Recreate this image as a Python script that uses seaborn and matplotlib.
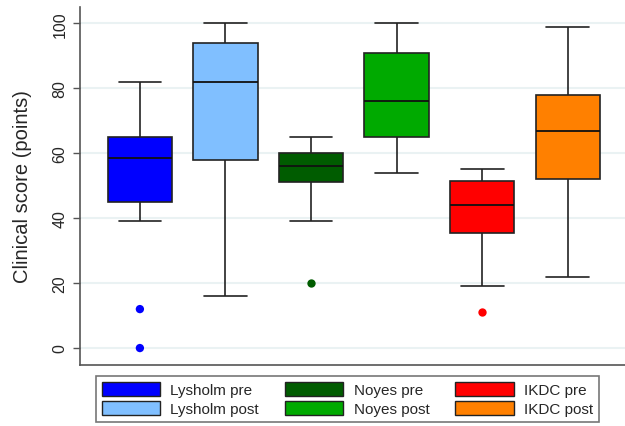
import numpy as np
import pandas as pd
import matplotlib
matplotlib.use("Agg")
import matplotlib.pyplot as plt
from matplotlib.patches import Patch
import seaborn as sns

groups = ["Lysholm pre", "Lysholm post", "Noyes pre", "Noyes post", "IKDC pre", "IKDC post"]
colors = ["#0000FF", "#80BFFF", "#005C00", "#00AA00", "#FF0000", "#FF8000"]

# five-number summaries: low whisker, Q1, median, Q3, high whisker
lysholm_pre = [39, 45, 58.5, 65, 82]
lysholm_post = [16, 58, 82, 94, 100]
noyes_pre = [39, 51, 56, 60, 65]
noyes_post = [54, 65, 76, 91, 100]
ikdc_pre = [19, 35.5, 44, 51.5, 55]
ikdc_post = [22, 52, 67, 78, 99]

outlier_groups = ["Lysholm pre", "Lysholm pre", "Noyes pre", "IKDC pre"]
outlier_values = [12, 0, 20, 11]

summaries = [lysholm_pre, lysholm_post, noyes_pre, noyes_post, ikdc_pre, ikdc_post]
df = pd.DataFrame({
    "group": [g for g, s in zip(groups, summaries) for _ in s],
    "score": [v for s in summaries for v in s],
})
out_df = pd.DataFrame({"group": outlier_groups, "score": outlier_values})
palette = dict(zip(groups, colors))

sns.set_style("white")
plt.rcParams["font.family"] = ["Liberation Sans", "DejaVu Sans"]

fig = plt.figure(figsize=(6.25, 4.27), dpi=100)
ax = fig.add_axes([0.128, 0.143, 0.872, 0.838])

for y in [0, 20, 40, 60, 80, 100]:
    ax.axhline(y, color="#EAF2F3", lw=1.5, zorder=0)

sns.boxplot(data=df, x="group", y="score", hue="group", order=groups,
            hue_order=groups, palette=palette, whis=np.inf, width=0.75,
            linewidth=1.2, linecolor="#222222", fliersize=0, saturation=1,
            capwidths=0.5, legend=False, ax=ax,
            medianprops=dict(color="#111111", linewidth=1.3))
sns.stripplot(data=out_df, x="group", y="score", hue="group", order=groups,
              hue_order=groups, palette=palette, jitter=False, size=6,
              linewidth=0, legend=False, ax=ax, zorder=5)

ax.set_xlim(-0.7, 5.67)
ax.set_ylim(-5.2, 105)
ax.set_yticks([0, 20, 40, 60, 80, 100])
ax.set_yticklabels(["0", "20", "40", "60", "80", "100"], rotation=90, va="center",
                   fontsize=11.5)
ax.set_xticks([])
ax.set_xlabel("")
ax.set_ylabel("Clinical score (points)", fontsize=14.5, labelpad=15)
ax.tick_params(axis="y", left=True, length=5, width=1, color="#555555", pad=4)
for s in ["top", "right"]:
    ax.spines[s].set_visible(False)
for s in ["left", "bottom"]:
    ax.spines[s].set_color("#555555")
    ax.spines[s].set_linewidth(1.2)

handles = [Patch(facecolor=c, edgecolor="#222222", linewidth=1.0, label=g)
           for g, c in zip(groups, colors)]
leg = fig.legend(handles=handles, ncol=3, loc="center", bbox_to_anchor=(0.556, 0.063),
                 fontsize=11, frameon=True, fancybox=False, handlelength=3.8,
                 handleheight=1.0, handletextpad=0.7, columnspacing=1.7,
                 labelspacing=0.25, borderpad=0.4)
leg.get_frame().set_edgecolor("#555555")
leg.get_frame().set_linewidth(1.2)

fig.savefig("out.png", dpi=100)
